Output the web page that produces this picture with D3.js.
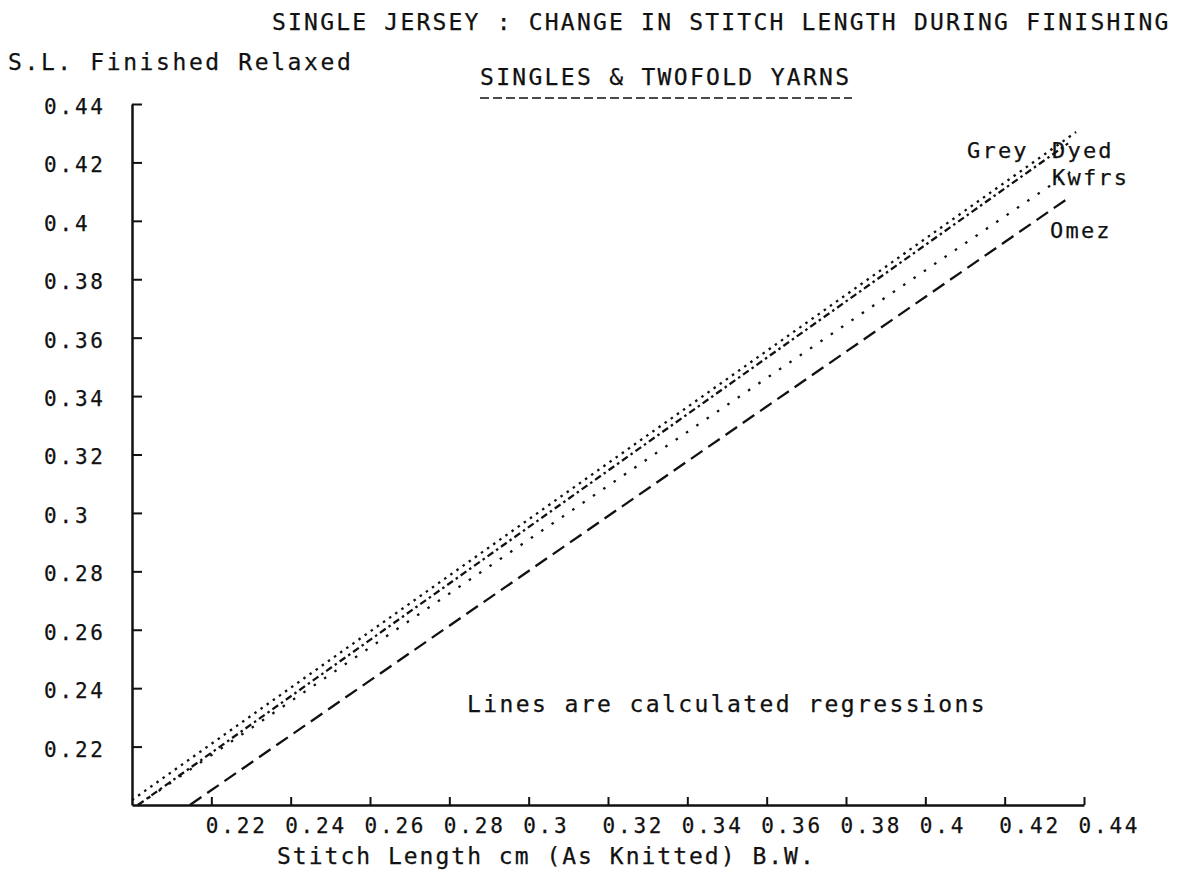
<!DOCTYPE html>
<html>
<head>
<meta charset="utf-8">
<script src="https://cdn.jsdelivr.net/npm/d3@7"></script>
<style>
  body { margin: 0; background: #fff; }
  text { font-family: "DejaVu Sans Mono", monospace; fill: #111; stroke: #111; stroke-width: 0.25; }
</style>
</head>
<body>
<svg id="chart" width="1200" height="877"></svg>
<script>
// tick values
const xTicks = [0.22, 0.24, 0.26, 0.28, 0.3, 0.32, 0.34, 0.36, 0.38, 0.4, 0.42, 0.44];
const yTicks = [0.22, 0.24, 0.26, 0.28, 0.3, 0.32, 0.34, 0.36, 0.38, 0.4, 0.42, 0.44];

// regression lines, end points
const series = ["Grey", "Dyed", "Kwfrs", "Omez"];
const greyX = [0.2, 0.438], greyY = [0.2017, 0.4304];
const dyedX = [0.2015, 0.436], dyedY = [0.2, 0.4265];
const kwfrsX = [0.2015, 0.4365], kwfrsY = [0.2, 0.4167];
const omezX = [0.2146, 0.4365], omezY = [0.2, 0.4082];

const settings = {
  left: 132, right: 1084, top: 104, bottom: 805,
};

const dashes = {
  Grey: "2.5 5",
  Dyed: "7 3.5 2.5 3.5",
  Kwfrs: "2.5 10",
  Omez: "14 7",
};

const svg = d3.select("#chart");

const x = d3.scaleLinear().domain([0.2, 0.44]).range([settings.left, settings.right]);
const y = d3.scaleLinear().domain([0.2, 0.44]).range([settings.bottom, settings.top]);

const fmt = (d) => String(+d.toFixed(2));

// y axis, ticks pointing inward
svg
  .append("g")
  .attr("class", "yaxis")
  .attr("transform", `translate(${settings.left}, 0)`)
  .call(d3.axisLeft(y).tickValues(yTicks).tickFormat(fmt).tickSize(-10).tickSizeOuter(0))
  .call((g) => g.select(".domain").attr("stroke", "#111").attr("stroke-width", 2.5))
  .call((g) => g.selectAll(".tick line").attr("stroke", "#111").attr("stroke-width", 2))
  .call((g) =>
    g.selectAll(".tick text")
      .attr("x", 44 - settings.left)
      .attr("dy", "0.45em")
      .attr("text-anchor", "start")
      .attr("font-size", 21)
      .attr("letter-spacing", 2.8)
      .attr("fill", "#111")
  );

// x axis
svg
  .append("g")
  .attr("class", "xaxis")
  .attr("transform", `translate(0, ${settings.bottom})`)
  .call(d3.axisBottom(x).tickValues(xTicks).tickFormat(fmt).tickSize(-8).tickSizeOuter(0))
  .call((g) => g.select(".domain").attr("stroke", "#111").attr("stroke-width", 2.5))
  .call((g) => g.selectAll(".tick line").attr("stroke", "#111").attr("stroke-width", 2))
  .call((g) =>
    g.selectAll(".tick text")
      .attr("y", 28)
      .attr("dy", 0)
      .attr("x", -6)
      .attr("text-anchor", "start")
      .attr("font-size", 21)
      .attr("letter-spacing", 2.8)
      .attr("fill", "#111")
  );

// regression lines
const lines = [
  { name: "Grey", xs: greyX, ys: greyY },
  { name: "Dyed", xs: dyedX, ys: dyedY },
  { name: "Kwfrs", xs: kwfrsX, ys: kwfrsY },
  { name: "Omez", xs: omezX, ys: omezY },
];
const line = d3.line().x((d) => x(d[0])).y((d) => y(d[1]));

svg
  .append("g")
  .attr("class", "series")
  .selectAll("path")
  .data(lines)
  .join("path")
  .attr("d", (d) => line(d3.zip(d.xs, d.ys)))
  .attr("fill", "none")
  .attr("stroke", "#111")
  .attr("stroke-width", 2.3)
  .attr("stroke-linecap", "butt")
  .attr("stroke-dasharray", (d) => dashes[d.name]);

// line labels
const labelPos = {
  Grey: [967, 158],
  Dyed: [1052, 158],
  Kwfrs: [1052, 185],
  Omez: [1050, 238],
};
svg
  .append("g")
  .attr("class", "labels")
  .selectAll("text")
  .data(series)
  .join("text")
  .attr("x", (d) => labelPos[d][0])
  .attr("y", (d) => labelPos[d][1])
  .attr("font-size", 22)
  .attr("letter-spacing", 2.2)
  .text((d) => d);

// titles
const txt = svg.append("g").attr("class", "explanatory_text");
txt.append("text")
  .attr("x", 272).attr("y", 30)
  .attr("font-size", 23).attr("letter-spacing", 2.2)
  .text("SINGLE JERSEY : CHANGE IN STITCH LENGTH DURING FINISHING");
txt.append("text")
  .attr("x", 8).attr("y", 70)
  .attr("font-size", 23).attr("letter-spacing", 2.6)
  .text("S.L. Finished Relaxed");
txt.append("text")
  .attr("x", 480).attr("y", 85)
  .attr("font-size", 23).attr("letter-spacing", 2.3)
  .text("SINGLES & TWOFOLD YARNS");
txt.append("line")
  .attr("x1", 480).attr("x2", 852)
  .attr("y1", 98).attr("y2", 98)
  .attr("stroke", "#111").attr("stroke-width", 1.6)
  .attr("stroke-dasharray", "9 4");
txt.append("text")
  .attr("x", 467).attr("y", 712)
  .attr("font-size", 23).attr("letter-spacing", 2.4)
  .text("Lines are calculated regressions");
txt.append("text")
  .attr("x", 277).attr("y", 864)
  .attr("font-size", 23).attr("letter-spacing", 2)
  .text("Stitch Length cm (As Knitted) B.W.");
</script>
</body>
</html>
